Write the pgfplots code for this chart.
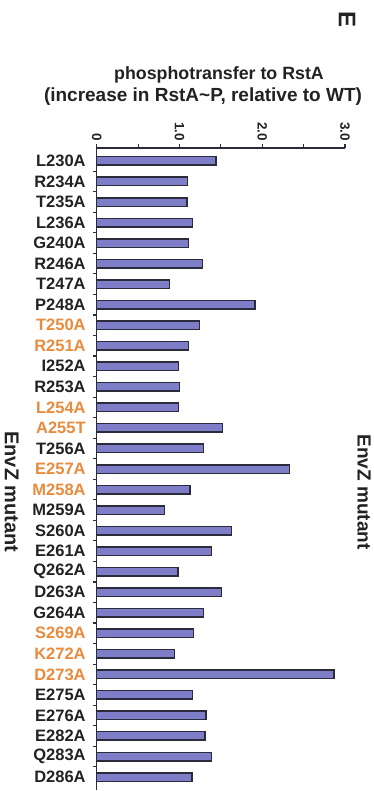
\documentclass[border=0pt]{standalone}
\usepackage{pgfplots}
\pgfplotsset{compat=1.18}
\usepackage{pgfplotstable}
\usepackage{fontspec}
\setmainfont{Liberation Sans}

\definecolor{barfill}{HTML}{7D7DC8}
\definecolor{bardraw}{HTML}{2B2B3B}
\definecolor{hl}{HTML}{E98A3C}
\definecolor{txt}{HTML}{222222}

% EnvZ mutants: row index and phosphotransfer to RstA relative to WT
\pgfplotstableread{
i  v
0  1.44
1  1.10
2  1.09
3  1.16
4  1.11
5  1.28
6  0.88
7  1.91
8  1.24
9  1.11
10 0.99
11 1.00
12 0.99
13 1.52
14 1.29
15 2.33
16 1.13
17 0.82
18 1.63
19 1.39
20 0.98
21 1.51
22 1.29
23 1.17
24 0.94
25 2.87
26 1.16
27 1.32
28 1.31
29 1.39
30 1.15
}\mutants

\newcommand{\hi}[1]{\textcolor{hl}{#1}}

\begin{document}
\begin{tikzpicture}[x=1pt,y=1pt]
\useasboundingbox (0,0) rectangle (373,791);
\begin{axis}[
  at={(96.7pt,643pt)}, anchor=north west,
  scale only axis,
  width=248.3pt, height=642pt,
  xmin=0, xmax=3,
  ymin=-0.63, ymax=30.63,
  y dir=reverse,
  axis x line*=top,
  axis y line*=left,
  axis line style={line width=1.2pt, color=bardraw},
  tick align=outside,
  xtick={0,1,2,3},
  xticklabels={0,1.0,2.0,3.0},
  minor xtick={0.5,1.5,2.5},
  major tick length=3.5pt,
  minor tick length=3.5pt,
  tick style={line width=1.1pt, color=bardraw},
  xticklabel style={rotate=-90, anchor=east, font=\bfseries\fontsize{13.5}{13.5}\selectfont, text=txt},
  /pgf/number format/assume math mode=true,
  ytick={0,...,30},
  major y tick style={draw=none},
  minor ytick={0.5,1.5,...,29.5},
  yticklabels={L230A,R234A,T235A,L236A,G240A,R246A,T247A,P248A,\hi{T250A},\hi{R251A},
    I252A,R253A,\hi{L254A},\hi{A255T},T256A,\hi{E257A},\hi{M258A},M259A,S260A,E261A,
    Q262A,D263A,G264A,\hi{S269A},\hi{K272A},\hi{D273A},E275A,E276A,E282A,Q283A,D286A},
  yticklabel style={font=\bfseries\fontsize{16.5}{16.5}\selectfont, text=txt, anchor=east, xshift=-4pt},
  clip=false,
]
\addplot[xbar, bar width=8.5pt, fill=barfill, draw=bardraw, line width=1.5pt]
  table[x=v, y=i] {\mutants};
\end{axis}

% titles and side labels
\node[font=\bfseries\fontsize{17.8}{17.8}\selectfont, text=txt] at (219,716) {phosphotransfer to RstA};
\node[font=\bfseries\fontsize{19}{19}\selectfont, text=txt] at (203,694) {(increase in RstA\textasciitilde P, relative to WT)};
\node[font=\bfseries\fontsize{24}{24}\selectfont, text=txt, rotate=-90] at (347,771) {E};
\node[font=\bfseries\fontsize{20}{20}\selectfont, text=txt, rotate=-90] at (11.7,299) {EnvZ mutant};
\node[font=\bfseries\fontsize{19}{19}\selectfont, text=txt, rotate=-90, inner sep=0pt] at (364,299) {EnvZ mutant};
\end{tikzpicture}
\end{document}
